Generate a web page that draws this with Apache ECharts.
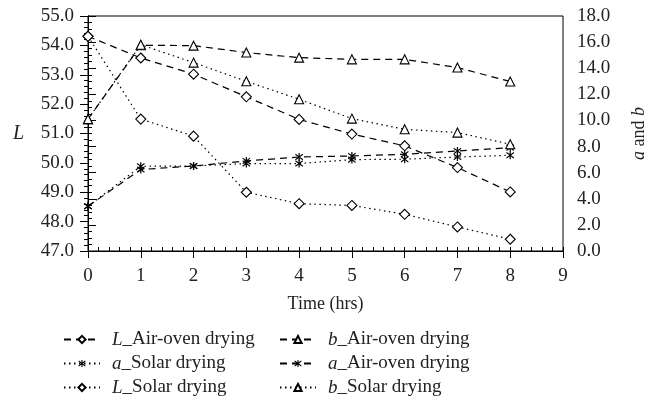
<!DOCTYPE html>
<html><head><meta charset="utf-8">
<script src="https://cdn.jsdelivr.net/npm/echarts@6/dist/echarts.min.js"></script>
<style>html,body{margin:0;padding:0;background:#fff}#c{width:652px;height:415px}</style>
</head><body><div id="c"></div><script>
const hours = [0, 1, 2, 3, 4, 5, 6, 7, 8];
const L_air = [54.31, 53.57, 53.02, 52.25, 51.48, 50.98, 50.58, 49.84, 49.01];
const L_solar = [54.31, 51.49, 50.91, 49.0, 48.61, 48.55, 48.25, 47.82, 47.40];
const b_air = [10.1, 15.76, 15.73, 15.2, 14.81, 14.68, 14.68, 14.05, 12.98];
const b_solar = [10.1, 15.8, 14.43, 13.0, 11.62, 10.14, 9.32, 9.07, 8.18];
const a_air = [3.43, 6.24, 6.51, 6.9, 7.2, 7.28, 7.41, 7.66, 7.92];
const a_solar = [3.43, 6.49, 6.51, 6.7, 6.7, 7.0, 7.03, 7.2, 7.33];
const seriesNames = ['L_Air-oven drying', 'a_Solar drying', 'L_Solar drying', 'b_Air-oven drying', 'a_Air-oven drying', 'b_Solar drying'];

const FONT = 'Liberation Serif';
const DASH = [7, 5];
const DOT = [1.5, 3.5];
const STAR = 'path://M4.3,0 H5.7 V10 H4.3 Z M0.3,2.1 L1,0.9 L9.7,7.9 L9,9.1 Z M9,0.9 L9.7,2.1 L1,9.1 L0.3,7.9 Z';

function pairs(ys) { return hours.map((h, i) => [h, ys[i]]); }
function mk(name, ys, yIdx, dash, sym) {
  const hollow = sym !== STAR;
  return {
    name, type: 'line', data: pairs(ys), yAxisIndex: yIdx, xAxisIndex: 0,
    symbol: sym, symbolSize: sym === 'diamond' ? 10 : (sym === 'triangle' ? 9 : 8),
    showSymbol: true,
    lineStyle: { color: '#000', width: 1.2, type: dash },
    itemStyle: { color: hollow ? '#fff' : '#000', borderColor: '#000', borderWidth: hollow ? 1.1 : 0 },
    emphasis: { disabled: true }, animation: false
  };
}

const legendText = {
  fontFamily: FONT, fontSize: 19, color: '#222', lineHeight: 19, padding: [0, 0, 0, 7],
  rich: { i: { fontFamily: FONT, fontSize: 19, fontStyle: 'italic', color: '#222', lineHeight: 19 } }
};
const fmt = n => '{i|' + n[0] + '}' + n.slice(1);

const chart = echarts.init(document.getElementById('c'), null, { renderer: 'canvas' });
chart.setOption({
  animation: false,
  backgroundColor: '#fff',
  textStyle: { fontFamily: FONT },
  grid: { left: 88, right: 89, top: 16, bottom: 164, show: true, borderColor: '#000', borderWidth: 1,
    containLabel: false, outerBoundsMode: 'none' },
  legend: [
    { data: seriesNames.slice(0, 3), orient: 'vertical', left: 58, top: 325, itemWidth: 36, itemHeight: 9, itemGap: 5,
      textStyle: legendText, formatter: fmt, selectedMode: false },
    { data: seriesNames.slice(3), orient: 'vertical', left: 274, top: 325, itemWidth: 36, itemHeight: 9, itemGap: 5,
      textStyle: legendText, formatter: fmt, selectedMode: false }
  ],
  xAxis: [
    { type: 'value', min: 0, max: 9, interval: 1, name: 'Time (hrs)', nameLocation: 'middle', nameGap: 44,
      nameTextStyle: { fontFamily: FONT, fontSize: 18, color: '#222' },
      axisLine: { lineStyle: { color: '#000' } },
      axisTick: { length: 7, lineStyle: { color: '#000' } },
      axisLabel: { fontFamily: FONT, fontSize: 19, color: '#222', margin: 16 },
      splitLine: { show: false } },
    { type: 'value', min: 0, max: 9, interval: 0.2, position: 'bottom',
      axisLine: { show: false }, axisLabel: { show: false }, splitLine: { show: false },
      axisTick: { inside: true, length: 4, lineStyle: { color: '#000' } } }
  ],
  yAxis: [
    { type: 'value', min: 47, max: 55, interval: 1, position: 'left', name: 'L', nameLocation: 'middle', nameGap: 64, nameRotate: 0,
      nameTextStyle: { fontFamily: FONT, fontSize: 20, fontStyle: 'italic', color: '#222' },
      axisLine: { show: true, lineStyle: { color: '#000' } },
      axisTick: { show: true, length: 8, lineStyle: { color: '#000' } },
      minorTick: { show: true, splitNumber: 5, length: 4, lineStyle: { color: '#000' } },
      axisLabel: { fontFamily: FONT, fontSize: 19, color: '#222', margin: 14, formatter: v => v.toFixed(1) },
      splitLine: { show: false } },
    { type: 'value', min: 0, max: 18, interval: 2, position: 'right', name: '{i|a} and {i|b}', nameLocation: 'middle', nameGap: 67, nameRotate: 90,
      nameTextStyle: { fontFamily: FONT, fontSize: 18, color: '#222', rich: { i: { fontFamily: FONT, fontSize: 18, fontStyle: 'italic', color: '#222' } } },
      axisLine: { show: true, lineStyle: { color: '#000' } },
      axisTick: { show: true, length: 8, lineStyle: { color: '#000' } },
      minorTick: { show: true, splitNumber: 4, length: 4, lineStyle: { color: '#000' } },
      axisLabel: { fontFamily: FONT, fontSize: 19, color: '#222', margin: 14, formatter: v => v.toFixed(1) },
      splitLine: { show: false } }
  ],
  series: [
    mk('L_Air-oven drying', L_air, 0, DASH, 'diamond'),
    mk('a_Solar drying', a_solar, 1, DOT, STAR),
    mk('L_Solar drying', L_solar, 0, DOT, 'diamond'),
    mk('b_Air-oven drying', b_air, 1, DASH, 'triangle'),
    mk('a_Air-oven drying', a_air, 1, DASH, STAR),
    mk('b_Solar drying', b_solar, 1, DOT, 'triangle')
  ]
});
</script></body></html>
